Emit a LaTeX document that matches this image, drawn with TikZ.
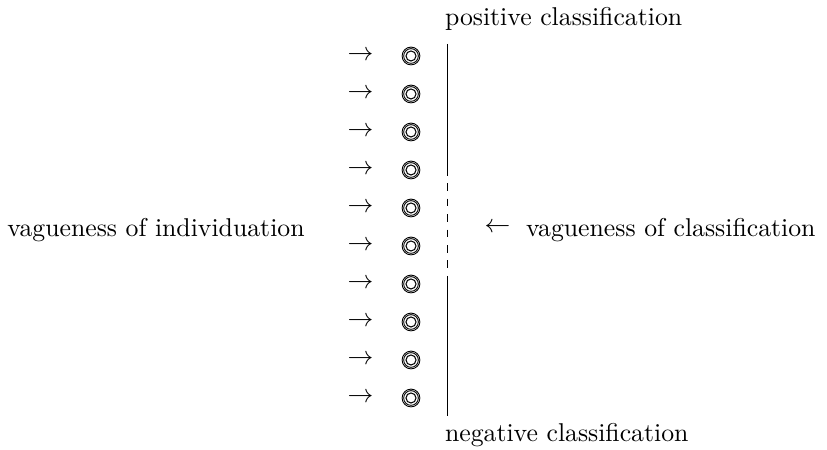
\documentclass[tikz,border=0pt]{standalone}
\usepackage{amssymb}
\begin{document}
\begin{tikzpicture}[x=0.3883pt,y=-0.3883pt,
  lbl/.style={inner sep=0pt,outer sep=0pt},
  rule/.style={line width=0.4pt,draw=black},
  ringed/.style={circle,inner sep=0pt,minimum size=6.9pt,draw,line width=0.35pt,
    path picture={
      \draw[line width=0.35pt] (path picture bounding box.center) circle[radius=2.85pt];
      \draw[line width=0.4pt] (path picture bounding box.center) circle[radius=1.95pt];
    }}]
\useasboundingbox (0,0) rectangle (827,450);
% rows of items, each an arrow pointing at a ringed object
\foreach \i in {0,...,9}{
  \node[lbl] (arr\i) at (360.5,{56+38*\i}) {$\rightarrow$};
  \node[ringed] (obj\i) at (411,{56+38*\i}) {};
}
% classification boundary: solid, vague (dashed), solid
\coordinate (top) at (447.5,44);
\coordinate (vtop) at (447.5,176);
\coordinate (vbot) at (447.5,279);
\coordinate (bot) at (447.5,416);
\draw[rule] (top) -- (vtop);
\draw[rule,dash pattern=on 3pt off 3pt,dash phase=-2.8pt] (vtop) -- (vbot);
\draw[rule] (vbot) -- (bot);
% labels
\node[lbl,anchor=base west] (pos) at (445,26) {positive classification};
\node[lbl,anchor=base west] (neg) at (445,442) {negative classification};
\node[lbl,anchor=base] (indiv) at (156,237) {vagueness of individuation};
\node[lbl] (larr) at (497.5,228) {$\leftarrow$};
\node[lbl,anchor=base west] (clas) at (526,237) {vagueness of classification};
\end{tikzpicture}
\end{document}
